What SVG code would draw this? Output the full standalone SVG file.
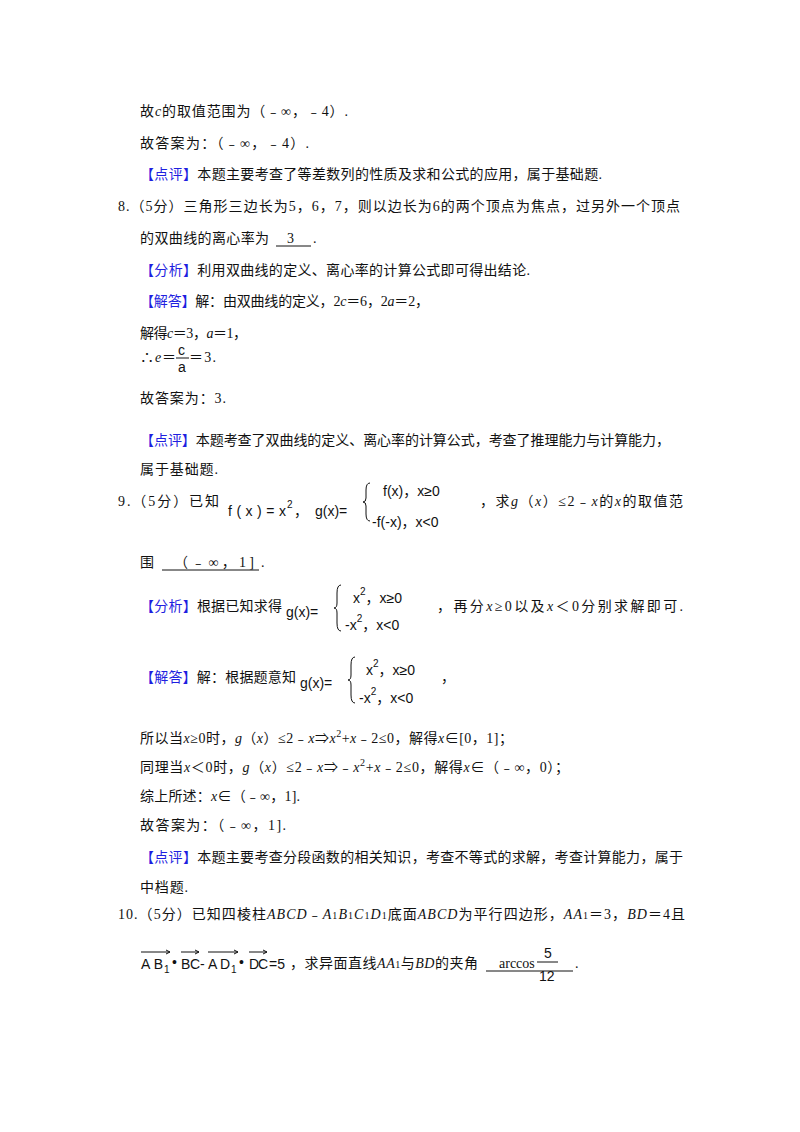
<svg xmlns="http://www.w3.org/2000/svg" width="800" height="1132" viewBox="0 0 800 1132">
<style>
text{font-family:"Liberation Serif","Noto Sans CJK SC",serif;font-size:14px;fill:#111}
.b{fill:#1f1fe0}
.i{font-style:italic}
.m{font-family:"Liberation Sans","Noto Sans CJK SC",sans-serif;font-size:14px}
.s{font-size:10px}
line,path{stroke:#111;fill:none;stroke-width:1}
</style>
<rect width="800" height="1132" fill="#fff"/>
<text x="140" y="116" textLength="208">故<tspan class="i">c</tspan>的取值范围为（﹣∞，﹣4）.</text>
<text x="140" y="148" textLength="169">故答案为：（﹣∞，﹣4）.</text>
<text x="140" y="179" textLength="462"><tspan class="b">【点评】</tspan>本题主要考查了等差数列的性质及求和公式的应用，属于基础题.</text>
<text x="118" y="211" textLength="562">8.（5分）三角形三边长为5，6，7，则以边长为6的两个顶点为焦点，过另外一个顶点</text>
<text x="140" y="243" textLength="129">的双曲线的离心率为</text>
<text x="287" y="243">3</text>
<line x1="276" y1="246" x2="311" y2="246"/>
<text x="313" y="243">.</text>
<text x="140" y="275" textLength="390"><tspan class="b">【分析】</tspan>利用双曲线的定义、离心率的计算公式即可得出结论.</text>
<text x="140" y="306" textLength="289"><tspan class="b">【解答】</tspan>解：由双曲线的定义，2<tspan class="i">c</tspan>＝6，2<tspan class="i">a</tspan>＝2，</text>
<text x="140" y="338" textLength="107">解得<tspan class="i">c</tspan>＝3，<tspan class="i">a</tspan>＝1，</text>
<text x="140" y="362" textLength="36">∴<tspan class="i">e</tspan>＝</text>
<text x="178" y="355" class="m" font-size="12">c</text>
<line x1="176" y1="358" x2="189" y2="358"/>
<text x="178" y="372" class="m" font-size="12">a</text>
<text x="189" y="362" textLength="27">＝3.</text>
<text x="140" y="403" textLength="86">故答案为：3.</text>
<text x="140" y="445" textLength="530"><tspan class="b">【点评】</tspan>本题考查了双曲线的定义、离心率的计算公式，考查了推理能力与计算能力，</text>
<text x="140" y="474" textLength="78">属于基础题.</text>
<text x="118" y="506" textLength="101">9.（5分）已知</text>
<text x="228" y="516" class="m" textLength="58">f(x)=x</text>
<text x="287" y="508" class="m s">2</text>
<text x="294" y="516" class="m">，</text>
<text x="315" y="516" class="m">g(x)=</text>
<path d="M370,483 q-4,0 -4,7 v8 q0,4 -3,4 q3,0 3,4 v8 q0,7 4,7"/>
<text x="383" y="496" class="m">f(x)，x≥0</text>
<text x="372" y="527" class="m">-f(-x)，x&lt;0</text>
<text x="480" y="506" textLength="203">，求<tspan class="i">g</tspan>（<tspan class="i">x</tspan>）≤2﹣<tspan class="i">x</tspan>的<tspan class="i">x</tspan>的取值范</text>
<text x="140" y="567">围</text>
<text x="174" y="567" textLength="80">（﹣∞，1]</text>
<line x1="162" y1="570" x2="259" y2="570"/>
<text x="261" y="567">.</text>
<text x="140" y="611" textLength="142"><tspan class="b">【分析】</tspan>根据已知求得</text>
<text x="286" y="617" class="m">g(x)=</text>
<path d="M341,585 q-4,0 -4,8 v10 q0,5 -3,5 q3,0 3,5 v10 q0,8 4,8"/>
<text x="353" y="603" class="m">x<tspan class="s" dy="-8">2</tspan><tspan dy="8">，x≥0</tspan></text>
<text x="345" y="630" class="m">-x<tspan class="s" dy="-8">2</tspan><tspan dy="8">，x&lt;0</tspan></text>
<text x="437" y="611" textLength="246">，再分<tspan class="i">x</tspan>≥0以及<tspan class="i">x</tspan>＜0分别求解即可.</text>
<text x="140" y="682" textLength="156"><tspan class="b">【解答】</tspan>解：根据题意知</text>
<text x="300" y="688" class="m">g(x)=</text>
<path d="M355,657 q-4,0 -4,8 v10 q0,5 -3,5 q3,0 3,5 v10 q0,8 4,8"/>
<text x="366" y="675" class="m">x<tspan class="s" dy="-8">2</tspan><tspan dy="8">，x≥0</tspan></text>
<text x="359" y="703" class="m">-x<tspan class="s" dy="-8">2</tspan><tspan dy="8">，x&lt;0</tspan></text>
<text x="441" y="682">，</text>
<text x="140" y="743" textLength="373">所以当<tspan class="i">x</tspan>≥0时，<tspan class="i">g</tspan>（<tspan class="i">x</tspan>）≤2﹣<tspan class="i">x</tspan>⇒<tspan class="i">x</tspan><tspan class="s" dy="-6">2</tspan><tspan dy="6">+</tspan><tspan class="i">x</tspan>﹣2≤0，解得<tspan class="i">x</tspan>∈[0，1]；</text>
<text x="140" y="772" textLength="429">同理当<tspan class="i">x</tspan>＜0时，<tspan class="i">g</tspan>（<tspan class="i">x</tspan>）≤2﹣<tspan class="i">x</tspan>⇒﹣<tspan class="i">x</tspan><tspan class="s" dy="-6">2</tspan><tspan dy="6">+</tspan><tspan class="i">x</tspan>﹣2≤0，解得<tspan class="i">x</tspan>∈（﹣∞，0）；</text>
<text x="140" y="801" textLength="160">综上所述：<tspan class="i">x</tspan>∈（﹣∞，1].</text>
<text x="140" y="830" textLength="146">故答案为：（﹣∞，1].</text>
<text x="140" y="862" textLength="543"><tspan class="b">【点评】</tspan>本题主要考查分段函数的相关知识，考查不等式的求解，考查计算能力，属于</text>
<text x="140" y="892" textLength="48">中档题.</text>
<text x="118" y="919" textLength="567">10.（5分）已知四棱柱<tspan class="i">ABCD</tspan>﹣<tspan class="i">A</tspan><tspan class="s">1</tspan><tspan class="i">B</tspan><tspan class="s">1</tspan><tspan class="i">C</tspan><tspan class="s">1</tspan><tspan class="i">D</tspan><tspan class="s">1</tspan>底面<tspan class="i">ABCD</tspan>为平行四边形，<tspan class="i">AA</tspan><tspan class="s">1</tspan>＝3，<tspan class="i">BD</tspan>＝4且</text>
<g class="m">
<text x="141" y="969" class="m" textLength="22">AB</text><text x="164" y="973" class="m s">1</text>
<text x="172" y="967" class="m">•</text>
<text x="181" y="969" class="m" textLength="19">BC</text>
<text x="200" y="969" class="m">-</text>
<text x="208" y="969" class="m" textLength="22">AD</text><text x="231" y="973" class="m s">1</text>
<text x="239" y="967" class="m">•</text>
<text x="249" y="969" class="m" textLength="19">DC</text>
<text x="269" y="969" class="m">=5</text>
</g>
<path d="M141,952 h29 M166,950 l4,2 l-4,2 M181,952 h18 M195,950 l4,2 l-4,2 M208,952 h30 M234,950 l4,2 l-4,2 M249,952 h18 M263,950 l4,2 l-4,2"/>
<text x="290" y="968" textLength="188">，求异面直线<tspan class="i">AA</tspan><tspan class="s">1</tspan>与<tspan class="i">BD</tspan>的夹角</text>
<text x="499" y="968" font-size="13">arccos</text>
<line x1="486" y1="971" x2="573" y2="971"/>
<text x="544" y="958" class="m" font-size="15">5</text>
<line x1="537" y1="962" x2="558" y2="962"/>
<text x="539" y="981" class="m" font-size="15">12</text>
<text x="575" y="968">.</text>
</svg>
